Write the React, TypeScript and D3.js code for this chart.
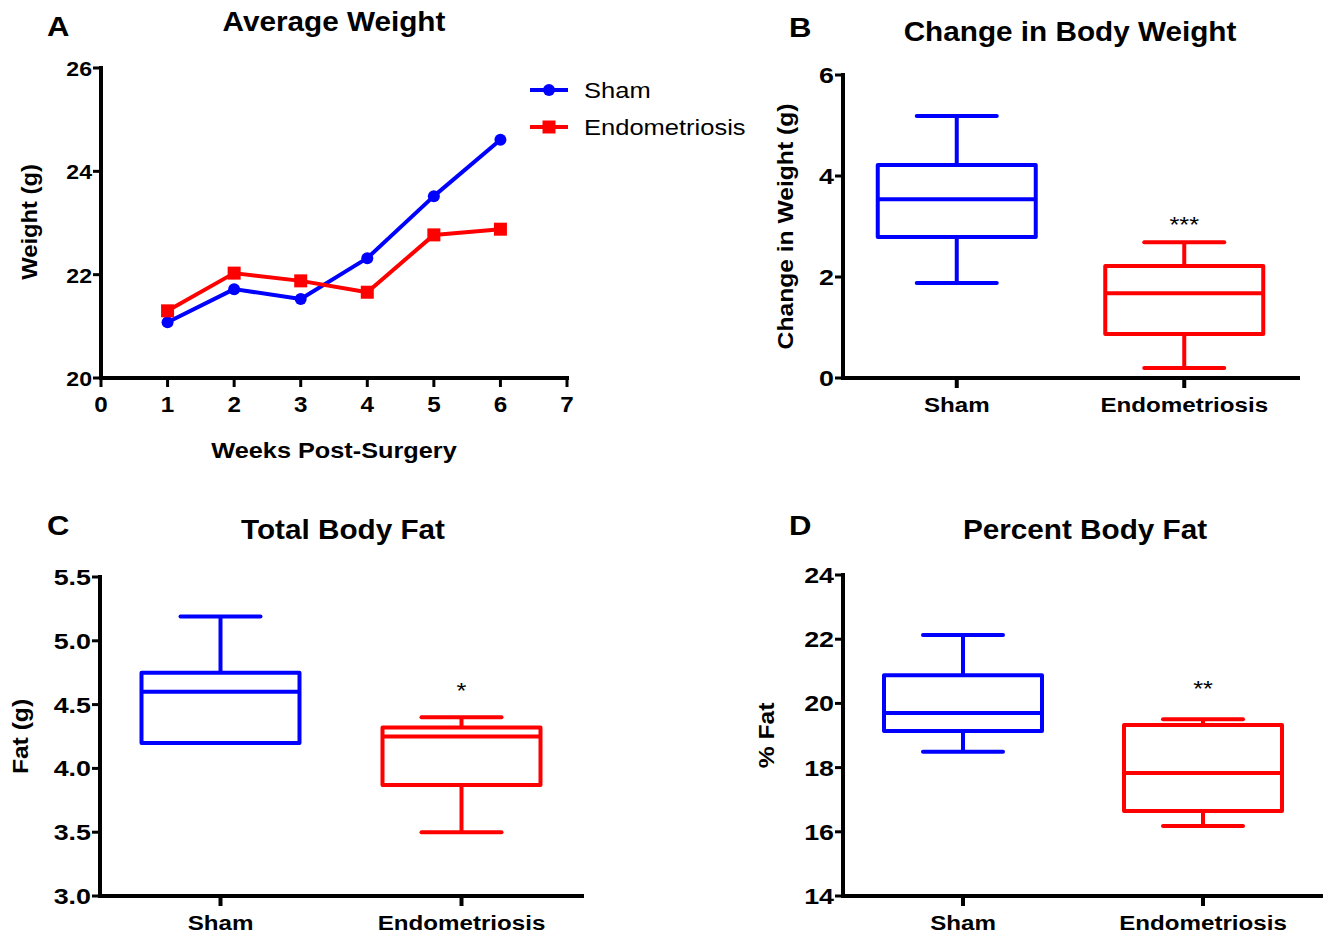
import React from 'react';
import * as d3 from 'd3';

// Panel A: average weight per week
const weeks = [1, 2, 3, 4, 5, 6];
const shamWeight = [21.08, 21.72, 21.53, 22.32, 23.52, 24.61];
const endoWeight = [21.3, 22.03, 21.88, 21.66, 22.77, 22.88];
const weekTicks = [0, 1, 2, 3, 4, 5, 6, 7];
const weightTicks = [20, 22, 24, 26];

const groups = ['Sham', 'Endometriosis'];

// box stats: [min, q1, median, q3, max]
const changeStats = [
  [1.88, 2.79, 3.54, 4.22, 5.19],
  [0.2, 0.87, 1.68, 2.22, 2.69],
];
const changeTicks = [0, 2, 4, 6];

const fatStats = [
  [4.2, 4.2, 4.6, 4.75, 5.19],
  [3.5, 3.87, 4.25, 4.32, 4.4],
];
const fatTicks = [3.0, 3.5, 4.0, 4.5, 5.0, 5.5];

const pctStats = [
  [18.49, 19.14, 19.7, 20.88, 22.13],
  [16.18, 16.65, 17.83, 19.33, 19.51],
];
const pctTicks = [14, 16, 18, 20, 22, 24];

const BLUE = '#0000ff';
const RED = '#ff0000';
const colors = [BLUE, RED];
const FONT = '"Liberation Sans", Arial, sans-serif';

// text that is a bit wider than the font (the figure looks stretched sideways)
function T({ x, y, size, bold = true, anchor = 'start', sx = 1.12, rot = 0, children }: any) {
  const tf = `translate(${x},${y})${rot ? ` rotate(${rot})` : ''} scale(${sx},1)`;
  return (
    <text transform={tf} fontSize={size} fontWeight={bold ? 'bold' : 'normal'} textAnchor={anchor}>
      {children}
    </text>
  );
}

function LineChart() {
  const x = d3.scaleLinear().domain([0, 7]).range([101, 567]);
  const y = d3.scaleLinear().domain([20, 26]).range([378, 68]);
  const line = d3.line<number>().x((_, i) => x(weeks[i])).y(d => y(d));
  const series = [
    { name: 'Sham', values: shamWeight, color: BLUE, shape: 'circle' },
    { name: 'Endometriosis', values: endoWeight, color: RED, shape: 'square' },
  ];
  const marker = (shape: string, cx: number, cy: number, color: string, key: any) =>
    shape === 'circle'
      ? <circle key={key} cx={cx} cy={cy} r={6} fill={color} />
      : <rect key={key} x={cx - 6.5} y={cy - 6.5} width={13} height={13} fill={color} />;
  return (
    <g>
      <T x={47} y={36} size={27} sx={1.15}>A</T>
      <T x={334} y={31} size={27} sx={1.1} anchor="middle">Average Weight</T>
      {series.map(s => (
        <g key={s.name}>
          <path d={line(s.values) || ''} fill="none" stroke={s.color} strokeWidth={4} strokeLinejoin="round" />
          {s.values.map((v, i) => marker(s.shape, x(weeks[i]), y(v), s.color, i))}
        </g>
      ))}
      <line x1={x(0)} x2={x(7)} y1={y(20)} y2={y(20)} stroke="#000" strokeWidth={4} strokeLinecap="square" />
      <line x1={x(0)} x2={x(0)} y1={y(20)} y2={y(26)} stroke="#000" strokeWidth={4} strokeLinecap="square" />
      {weekTicks.map(t => (
        <g key={t}>
          <line x1={x(t)} x2={x(t)} y1={y(20)} y2={y(20) + 9} stroke="#000" strokeWidth={3} />
          <T x={x(t)} y={y(20) + 34} size={22} sx={1.1} anchor="middle">{t}</T>
        </g>
      ))}
      {weightTicks.map(t => (
        <g key={t}>
          <line x1={x(0) - 8} x2={x(0)} y1={y(t)} y2={y(t)} stroke="#000" strokeWidth={3} />
          <T x={x(0) - 9} y={y(t) + 8} size={21} sx={1.1} anchor="end">{t}</T>
        </g>
      ))}
      <T x={334} y={458} size={22} sx={1.15} anchor="middle">Weeks Post-Surgery</T>
      <T x={37} y={222} size={22} sx={1.08} rot={-90} anchor="middle">Weight (g)</T>
      {series.map((s, i) => (
        <g key={s.name} transform={`translate(0,${90 + i * 37})`}>
          <line x1={530} x2={568} y1={0} y2={0} stroke={s.color} strokeWidth={4} />
          {marker(s.shape, 549, 0, s.color, 'm')}
          <T x={584} y={8} size={22} sx={1.16} bold={false}>{s.name}</T>
        </g>
      ))}
    </g>
  );
}

type BoxProps = {
  letter: string; letterX: number; title: string; titleX: number; top: number;
  left: number; right: number; yTop: number; yBottom: number;
  domain: [number, number]; ticks: number[]; fmt: (v: number) => string;
  stats: number[][]; yLabel: string; yLabelX: number; stars: string; starGap: number;
};

function BoxPanel(p: BoxProps) {
  const x = d3.scalePoint<string>().domain(groups).range([p.left, p.right]).padding(0.5);
  const y = d3.scaleLinear().domain(p.domain).range([p.yBottom, p.yTop]);
  const boxW = 158;
  const capW = 80;
  const base = y(p.domain[0]);
  return (
    <g>
      <T x={p.letterX} y={p.top + 35} size={27} sx={1.15}>{p.letter}</T>
      <T x={p.titleX} y={p.top + 39} size={27} sx={1.1} anchor="middle">{p.title}</T>
      {p.stats.map((s, i) => {
        const cx = x(groups[i]) as number;
        const [mn, q1, md, q3, mx] = s.map(v => y(v));
        return (
          <g key={i} stroke={colors[i]} strokeWidth={4} fill="none">
            <line x1={cx} x2={cx} y1={mx} y2={q3} />
            <line x1={cx} x2={cx} y1={q1} y2={mn} />
            <line x1={cx - capW / 2} x2={cx + capW / 2} y1={mx} y2={mx} strokeLinecap="round" />
            <line x1={cx - capW / 2} x2={cx + capW / 2} y1={mn} y2={mn} strokeLinecap="round" />
            <rect x={cx - boxW / 2} y={q3} width={boxW} height={q1 - q3} strokeLinejoin="round" />
            <line x1={cx - boxW / 2} x2={cx + boxW / 2} y1={md} y2={md} />
          </g>
        );
      })}
      <T x={x(groups[1]) as number} y={y(p.stats[1][4]) - p.starGap} size={22} sx={1.15} bold={false} anchor="middle">{p.stars}</T>
      <line x1={p.left} x2={p.right} y1={base} y2={base} stroke="#000" strokeWidth={4} strokeLinecap="square" />
      <line x1={p.left} x2={p.left} y1={base} y2={p.yTop} stroke="#000" strokeWidth={4} strokeLinecap="square" />
      {p.ticks.map(t => (
        <g key={t}>
          <line x1={p.left - 8} x2={p.left} y1={y(t)} y2={y(t)} stroke="#000" strokeWidth={3} />
          <T x={p.left - 9} y={y(t) + 8} size={22} sx={1.22} anchor="end">{p.fmt(t)}</T>
        </g>
      ))}
      {groups.map(g => (
        <g key={g}>
          <line x1={x(g) as number} x2={x(g) as number} y1={base} y2={base + 10} stroke="#000" strokeWidth={4} />
          <T x={x(g) as number} y={base + 34} size={21} sx={1.15} anchor="middle">{g}</T>
        </g>
      ))}
      <T x={p.yLabelX} y={(p.yTop + p.yBottom) / 2} size={22} sx={1.12} rot={-90} anchor="middle">{p.yLabel}</T>
    </g>
  );
}

export default function App() {
  return (
    <svg width={1323} height={937} style={{ position: 'absolute', left: 0, top: 0, background: '#fff' }} fontFamily={FONT}>
      <rect width={1323} height={937} fill="#fff" />
      <LineChart />
      <BoxPanel letter="B" letterX={789} title="Change in Body Weight" titleX={1070} top={2}
        left={843} right={1298} yTop={75} yBottom={378} domain={[0, 6]} ticks={changeTicks}
        fmt={d3.format('d')} stats={changeStats} yLabel="Change in Weight (g)" yLabelX={793} stars="***" starGap={10} />
      <BoxPanel letter="C" letterX={47} title="Total Body Fat" titleX={343} top={500}
        left={100} right={582} yTop={577} yBottom={896} domain={[3, 5.5]} ticks={fatTicks}
        fmt={d3.format('.1f')} stats={fatStats} yLabel="Fat (g)" yLabelX={28} stars="*" starGap={19} />
      <BoxPanel letter="D" letterX={789} title="Percent Body Fat" titleX={1085} top={500}
        left={843} right={1323} yTop={575} yBottom={896} domain={[14, 24]} ticks={pctTicks}
        fmt={d3.format('d')} stats={pctStats} yLabel="% Fat" yLabelX={774} stars="**" starGap={23} />
    </svg>
  );
}
